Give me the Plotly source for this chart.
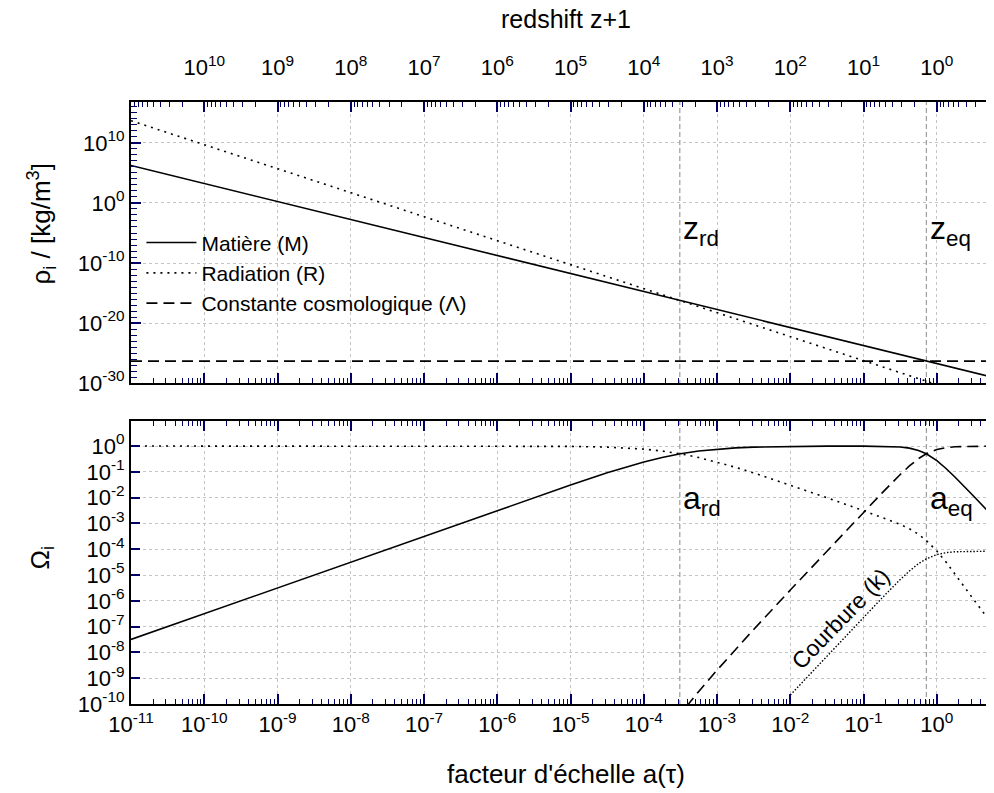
import math
import plotly.graph_objects as go

# ---------------- data ----------------
# top panel: densities rho_i [kg/m^3] vs scale factor a
a_rho = [1e-11, 7.28]
rho_matter = [1.78e6, 4.6e-30]
rho_radiation = [5.2e13, 1.9e-34]
rho_lambda = [4.5e-27, 4.5e-27]

# bottom panel: density parameters Omega_i vs scale factor a
a_omega = [1e-11, 1e-6, 1e-5, 3.162e-5, 5.623e-5, 1e-4, 1.778e-4, 3.162e-4,
           5.623e-4, 1e-3, 1.778e-3, 3.162e-3, 1e-2, 3.162e-2, 0.1, 0.1778,
           0.3162, 0.4217, 0.5623, 0.7178, 1.0, 1.3335, 1.778, 3.162, 7.278]
omega_m = [3.18e-8, 3.167e-3, 0.03079, 0.0913, 0.1515, 0.2411, 0.3610, 0.5011,
           0.6411, 0.7606, 0.8496, 0.9095, 0.9695, 0.9901, 0.9942, 0.9833,
           0.9204, 0.8309, 0.6751, 0.4999, 0.2700, 0.1349, 0.06171, 0.01156, 9.6e-4]
omega_r = [1.0, 0.9968, 0.9692, 0.9087, 0.8485, 0.7589, 0.6390, 0.4989,
           0.3589, 0.2394, 0.1504, 0.0905, 0.03052, 9.856e-3, 3.13e-3, 1.741e-3,
           9.16e-4, 6.20e-4, 3.78e-4, 2.19e-4, 8.5e-5, 3.19e-5, 1.09e-5, 1.15e-6, 4.8e-8]
omega_l = [8.6e-41, 8.6e-21, 8.3e-17, 7.8e-15, 7.29e-14, 6.52e-13, 5.49e-12, 4.28e-11,
           3.08e-10, 2.06e-9, 1.29e-8, 7.78e-8, 2.62e-6, 8.46e-5, 2.688e-3, 0.01495,
           0.0787, 0.1685, 0.3246, 0.4999, 0.7299, 0.8651, 0.9383, 0.9884, 0.9990]
a_k = [1e-2, 3.162e-2, 0.1, 0.1778, 0.3162, 0.4217, 0.5623, 0.7178, 1.0,
       1.3335, 1.778, 3.162, 7.278]
omega_k = [2.23e-10, 7.19e-9, 2.29e-7, 1.27e-6, 6.69e-6, 1.43e-5, 2.76e-5,
           4.25e-5, 6.20e-5, 7.35e-5, 7.98e-5, 8.40e-5, 8.49e-5]

# characteristic epochs
a_rd = 3.1e-4
a_eq = 0.72

# tick labels (exponents of ten)
a_tick_exp = [-11, -10, -9, -8, -7, -6, -5, -4, -3, -2, -1, 0]
z_tick_exp = [10, 9, 8, 7, 6, 5, 4, 3, 2, 1, 0]
rho_tick_exp = [-30, -20, -10, 0, 10]
omega_tick_exp = [0, -1, -2, -3, -4, -5, -6, -7, -8, -9, -10]

# ---------------- figure ----------------
FONT = "Liberation Sans"
X_LOG_RANGE = [-11, 0.862]
RHO_LOG_RANGE = [-30, 16.83]
OM_LOG_RANGE = [-10, 0.97]
TOP_DOM = [0.5332, 1]
BOT_DOM = [0, 0.4701]
TICKC = "#000066"

def sup(e):
    return "10<sup>%d</sup>" % e

fig = go.Figure()

# vertical epoch markers (behind curves)
for av in [a_rd, a_eq]:
    fig.add_trace(go.Scatter(x=[av, av], y=[1e-45, 1e25], xaxis="x", yaxis="y",
                             mode="lines", showlegend=False, hoverinfo="skip",
                             line=dict(color="#9c9c9c", width=1.2, dash="5px,3px")))
    fig.add_trace(go.Scatter(x=[av, av], y=[1e-15, 1e5], xaxis="x2", yaxis="y2",
                             mode="lines", showlegend=False, hoverinfo="skip",
                             line=dict(color="#9c9c9c", width=1.2, dash="5px,3px")))

SOLID = dict(color="black", width=1.6)
DOT = dict(color="black", width=1.6, dash="2px,5px")
DASH = dict(color="black", width=1.6, dash="11px,6px")
FINEDOT = dict(color="black", width=1.4, dash="1.5px,1.8px")

fig.add_trace(go.Scatter(x=a_rho, y=rho_matter, mode="lines", name="Matière (M)",
                         line=SOLID, xaxis="x", yaxis="y"))
fig.add_trace(go.Scatter(x=a_rho, y=rho_radiation, mode="lines", name="Radiation (R)",
                         line=DOT, xaxis="x", yaxis="y"))
fig.add_trace(go.Scatter(x=a_rho, y=rho_lambda, mode="lines",
                         name="Constante cosmologique (Λ)",
                         line=DASH, xaxis="x", yaxis="y"))

fig.add_trace(go.Scatter(x=a_omega, y=omega_m, mode="lines", line=SOLID,
                         xaxis="x2", yaxis="y2", showlegend=False))
fig.add_trace(go.Scatter(x=a_omega, y=omega_r, mode="lines", line=DOT,
                         xaxis="x2", yaxis="y2", showlegend=False))
fig.add_trace(go.Scatter(x=a_omega, y=omega_l, mode="lines", line=DASH,
                         xaxis="x2", yaxis="y2", showlegend=False))
fig.add_trace(go.Scatter(x=a_k, y=omega_k, mode="lines", line=FINEDOT,
                         xaxis="x2", yaxis="y2", showlegend=False))

# empty traces so that the extra (overlaid) axes are drawn
def empty(xa, ya):
    fig.add_trace(go.Scatter(x=[None], y=[None], xaxis=xa, yaxis=ya, mode="lines",
                             showlegend=False, hoverinfo="skip"))

empty("x3", "y")    # redshift axis (top of upper panel)
empty("x4", "y2")   # top border ticks of lower panel
empty("x", "y3")    # right border ticks of upper panel
empty("x2", "y4")   # right border ticks of lower panel

a_major = [10.0 ** e for e in a_tick_exp]
a_minor = [m * 10.0 ** e for e in a_tick_exp for m in range(2, 10)]
z_major = [10.0 ** e for e in z_tick_exp]
z_minor = [m * 10.0 ** e for e in range(-1, 11) for m in range(2, 10)]
rho_major = [10.0 ** e for e in rho_tick_exp]
rho_minor = [10.0 ** e for e in range(-30, 17) if e not in rho_tick_exp]
om_major = [10.0 ** e for e in omega_tick_exp]

tickfont = dict(family=FONT, size=22, color="black")
common = dict(type="log", showline=True, linecolor="black", linewidth=2,
              showgrid=True, gridcolor="#c4c4c4", griddash="dot", gridwidth=1,
              zeroline=False, tickfont=tickfont, tickmode="array",
              ticks="inside", ticklen=10, tickwidth=2, tickcolor=TICKC)
overlay = dict(common, showgrid=False, showticklabels=False)

def minor(vals, length=5):
    return dict(tickmode="array", tickvals=vals, ticks="inside", ticklen=length,
                tickwidth=1.2, tickcolor=TICKC, showgrid=False)

fig.update_layout(
    width=994, height=793,
    margin=dict(l=123, r=2, t=94, b=97),
    paper_bgcolor="white", plot_bgcolor="white",
    font=dict(family=FONT, color="black"),
    # upper panel, bottom border
    xaxis=dict(common, domain=[0, 1], anchor="y", range=X_LOG_RANGE,
               tickvals=a_major, showticklabels=False, minor=minor(a_minor)),
    # lower panel, bottom axis with labels
    xaxis2=dict(common, domain=[0, 1], anchor="y2", range=X_LOG_RANGE,
                tickvals=a_major, ticktext=[sup(e) for e in a_tick_exp],
                minor=minor(a_minor)),
    # redshift axis on top of the upper panel
    xaxis3=dict(common, overlaying="x", anchor="y", side="top",
                range=[-X_LOG_RANGE[0], -X_LOG_RANGE[1]],
                tickvals=z_major, ticktext=[sup(e) for e in z_tick_exp],
                showgrid=False, ticklabelstandoff=16, minor=minor(z_minor)),
    # lower panel, top border
    xaxis4=dict(overlay, overlaying="x2", anchor="y2", side="top",
                range=X_LOG_RANGE, tickvals=a_major, minor=minor(a_minor)),
    yaxis=dict(common, domain=TOP_DOM, anchor="x", range=RHO_LOG_RANGE,
               tickvals=rho_major, ticktext=[sup(e) for e in rho_tick_exp],
               minor=minor(rho_minor, 6)),
    yaxis2=dict(common, domain=BOT_DOM, anchor="x2", range=OM_LOG_RANGE,
                tickvals=om_major, ticktext=[sup(e) for e in omega_tick_exp],
                ticklen=9),
    # right borders
    yaxis3=dict(overlay, overlaying="y", anchor="x", side="right",
                range=RHO_LOG_RANGE, tickvals=rho_major, minor=minor(rho_minor, 6)),
    yaxis4=dict(overlay, overlaying="y2", anchor="x2", side="right",
                range=OM_LOG_RANGE, tickvals=om_major, ticklen=9),
    legend=dict(x=0.012, y=0.80, xanchor="left", yanchor="top", itemwidth=50,
                bgcolor="rgba(0,0,0,0)", font=dict(family=FONT, size=21, color="black"),
                tracegroupgap=0),
    showlegend=True,
)

ann_font = dict(family=FONT, size=32, color="black")
annotations = [
    dict(text="redshift z+1", xref="paper", yref="paper", x=0.5, y=1, yshift=83,
         yanchor="middle", showarrow=False, font=dict(family=FONT, size=25, color="black")),
    dict(text="facteur d'échelle a(τ)", xref="paper", yref="paper", x=0.5, y=0,
         yshift=-70, yanchor="middle", showarrow=False,
         font=dict(family=FONT, size=26, color="black")),
    dict(text="ρ<sub>i</sub> / [kg/m<sup>3</sup>]", xref="paper", yref="paper",
         x=0, y=(TOP_DOM[0] + TOP_DOM[1]) / 2, xshift=-90, yshift=18,
         xanchor="center", yanchor="middle",
         textangle=-90, showarrow=False, font=dict(family=FONT, size=26, color="black")),
    dict(text="Ω<sub>i</sub>", xref="paper", yref="paper",
         x=0, y=(BOT_DOM[0] + BOT_DOM[1]) / 2, xshift=-90, yshift=4,
         xanchor="center", yanchor="middle",
         textangle=-90, showarrow=False, font=dict(family=FONT, size=26, color="black")),
    dict(text="z<sub>rd</sub>", xref="x", yref="y", x=math.log10(a_rd) + 0.02, y=-4.6,
         xanchor="left", yanchor="middle", showarrow=False, font=ann_font),
    dict(text="z<sub>eq</sub>", xref="x", yref="y", x=math.log10(a_eq) + 0.02, y=-4.6,
         xanchor="left", yanchor="middle", showarrow=False, font=ann_font),
    dict(text="a<sub>rd</sub>", xref="x2", yref="y2", x=math.log10(a_rd) + 0.02, y=-2.1,
         xanchor="left", yanchor="middle", showarrow=False, font=ann_font),
    dict(text="a<sub>eq</sub>", xref="x2", yref="y2", x=math.log10(a_eq) + 0.02, y=-2.1,
         xanchor="left", yanchor="middle", showarrow=False, font=ann_font),
    dict(text="Courbure (k)", xref="x2", yref="y2", x=-1.32, y=-6.7,
         textangle=-46, showarrow=False, font=dict(family=FONT, size=23, color="black")),
]
fig.update_layout(annotations=annotations)

fig.write_html("out.html")
